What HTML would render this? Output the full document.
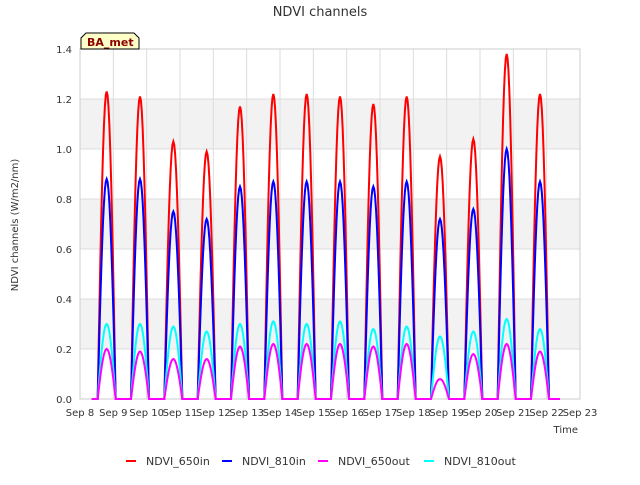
<!DOCTYPE html>
<html><head><meta charset="utf-8"><style>
body{margin:0;background:#fff;font-family:"Liberation Sans",sans-serif}
svg text{font-family:"DejaVu Sans","Liberation Sans",sans-serif}
</style></head><body>
<svg id="c" width="640" height="480">
<text x="320" y="16" text-anchor="middle" font-size="13" fill="#333">NDVI channels</text>
<text x="18" y="225" text-anchor="middle" font-size="10" fill="#333" transform="rotate(-90 18 225)">NDVI channels (W/m2/nm)</text>
<text x="578" y="433" text-anchor="end" font-size="10" fill="#333">Time</text>
<g id="plot"></g>
<g>
<path d="M81,49 L81,38 L86,33 L134,33 L139,38 L139,49 Z" fill="#ffffc8" stroke="#000" stroke-width="1"/>
<text x="87" y="46" font-size="11" font-weight="bold" fill="#8b0000">BA_met</text>
</g>
<g id="legend" font-size="11" fill="#333"></g>
</svg>
<script>
const days=["Sep 8","Sep 9","Sep 10","Sep 11","Sep 12","Sep 13","Sep 14","Sep 15","Sep 16","Sep 17","Sep 18","Sep 19","Sep 20","Sep 21","Sep 22","Sep 23"];
const yTicks=[0,0.2,0.4,0.6,0.8,1.0,1.2,1.4];
const in650=[1.23,1.21,1.03,0.99,1.17,1.22,1.22,1.21,1.18,1.21,0.97,1.04,1.38,1.22];
const in810=[0.88,0.88,0.75,0.72,0.85,0.87,0.87,0.87,0.85,0.87,0.72,0.76,1.0,0.87];
const out650=[0.2,0.19,0.16,0.16,0.21,0.22,0.22,0.22,0.21,0.22,0.08,0.18,0.22,0.19];
const out810=[0.3,0.3,0.29,0.27,0.30,0.31,0.30,0.31,0.28,0.29,0.25,0.27,0.32,0.28];
const X0=80,X1=580,Y0=399,Y1=49;
const x=d=>X0+(X1-X0)*d/15, y=v=>Y0-(Y0-Y1)*v/1.4;
const ns="http://www.w3.org/2000/svg", P=document.getElementById('plot');
function mk(t,a,parent){const e=document.createElementNS(ns,t);for(const k in a)e.setAttribute(k,a[k]);(parent||P).appendChild(e);return e;}
for(let i=0;i<7;i+=2){const b=mk('rect',{x:X0,y:y(yTicks[i+2]),width:X1-X0,height:y(yTicks[i+1])-y(yTicks[i+2]),fill:'#f2f2f2'});

}
yTicks.forEach(v=>{const l=mk('line',{x1:X0,x2:X1,y1:y(v),y2:y(v),stroke:'#ddd'});


const t=mk('text',{x:X0-8,y:y(v)+4,'text-anchor':'end','font-size':10,fill:'#333'});t.textContent=v.toFixed(1);

});
days.forEach((d,i)=>{const l=mk('line',{x1:x(i),x2:x(i),y1:Y1,y2:Y0,stroke:'#ddd'});


const t=mk('text',{x:x(i),y:Y0+17,'text-anchor':'middle','font-size':10,fill:'#333'});t.textContent=d;

});
mk('rect',{x:X0,y:Y1,width:X1-X0,height:Y0-Y1,fill:'none',stroke:'#ccc'});
function series(arr,col,name){let pts=[[x(0.35),y(0)]];
arr.forEach((p,i)=>{const c=i+0.8,w=0.27;pts.push([x(c-w),y(0)]);
for(let k=0;k<=20;k++){const s=Math.sin(Math.PI*k/20);pts.push([x(c-w+2*w*k/20),y(p*s)]);}
pts.push([x(c+w),y(0)]);});
pts.push([x(14.4),y(0)]);
const e=mk('polyline',{points:pts.map(p=>p.join(',')).join(' '),fill:'none',stroke:col,'stroke-width':2});

}
series(in650,'#ff0000','series-ndvi-650in');
series(in810,'#0000ff','series-ndvi-810in');
series(out810,'#00ffff','series-ndvi-810out');
series(out650,'#ff00ff','series-ndvi-650out');
const L=document.getElementById('legend');
[["NDVI_650in","#ff0000",126],["NDVI_810in","#0000ff",222],["NDVI_650out","#ff00ff",318],["NDVI_810out","#00ffff",424]].forEach(([n,c,lx])=>{
const g=mk('g',{},L);


mk('line',{x1:lx,x2:lx+10,y1:461,y2:461,stroke:c,'stroke-width':2},g);
const t=mk('text',{x:lx+20,y:465,'font-size':11,fill:'#333'},g);t.textContent=n;});
</script>
</body></html>
